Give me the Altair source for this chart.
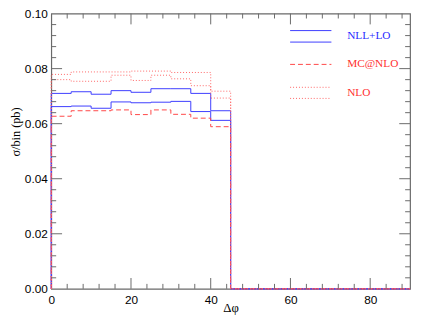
import altair as alt
import pandas as pd

# ---------------- data ----------------
bin_edges = [0, 5, 10, 15, 20, 25, 30, 35, 40]   # left edges of 5-degree bins
cut_off = 45
x_end = 90

nll_upper = [0.0710, 0.0716, 0.0707, 0.0720, 0.0714, 0.0727, 0.0727, 0.0710, 0.0647]
nll_lower = [0.0662, 0.0664, 0.0656, 0.0679, 0.0676, 0.0678, 0.0681, 0.0644, 0.0612]
mcnlo = [0.0627, 0.0647, 0.0647, 0.0650, 0.0633, 0.0650, 0.0634, 0.0620, 0.0589]
nlo_upper = [0.0779, 0.0788, 0.0788, 0.0788, 0.0791, 0.0791, 0.0786, 0.0786, 0.0718]
nlo_lower = [0.0760, 0.0754, 0.0754, 0.0776, 0.0757, 0.0776, 0.0763, 0.0738, 0.0693]

x_tick_labels = [0, 20, 40, 60, 80]
y_tick_labels = [0.0, 0.02, 0.04, 0.06, 0.08, 0.10]
legend_labels = ["NLL+LO", "MC@NLO", "NLO"]

# ---------------- layout / style ----------------
W, H = 365, 280
BLUE = "#3c3cff"
RED = "#ff4646"
PINK = "#ff6464"
FRAME = "#6a6a6a"


def step_rows(series, part, vals):
    xs = [0] + bin_edges + [cut_off, x_end]
    ys = [0] + list(vals) + [0, 0]
    return [dict(series=series, part=part, idx=i, x=x, y=y)
            for i, (x, y) in enumerate(zip(xs, ys))]


rows = (step_rows("NLL+LO", "a", nll_upper) + step_rows("NLL+LO", "b", nll_lower)
        + step_rows("MC@NLO", "a", mcnlo)
        + step_rows("NLO", "a", nlo_upper) + step_rows("NLO", "b", nlo_lower))
df = pd.DataFrame(rows)

xscale = alt.Scale(domain=[0, x_end], nice=False, zero=False)
yscale = alt.Scale(domain=[0, 0.1], nice=False)

X = alt.X("x:Q", scale=xscale,
          axis=alt.Axis(values=x_tick_labels, title="Δφ", labelFlush=False,
                        labelPadding=6, titleY=23, titleBaseline="alphabetic",
                        titleFont="Liberation Serif", titleFontSize=13))
Y = alt.Y("y:Q", scale=yscale,
          axis=alt.Axis(values=y_tick_labels, format=".2f", title="σ/bin (pb)",
                        labelFlush=False, labelPadding=4, titleX=-32, titleY=120,
                        titleAngle=270, titleBaseline="alphabetic", titleAlign="center",
                        titleFont="Liberation Serif", titleFontSize=12.5))


def hist(series, color, dash):
    kw = dict(interpolate="step-after", color=color, strokeWidth=1, clip=False)
    if dash:
        kw["strokeDash"] = dash
    return (alt.Chart(df).transform_filter(alt.datum.series == series)
            .mark_line(**kw)
            .encode(x=X, y=Y, detail="part:N", order="idx:Q"))


lines = [
    hist("NLL+LO", BLUE, None),
    hist("MC@NLO", RED, [5, 3]),
    hist("NLO", PINK, [1, 2]),
]

# ---------------- inward ticks on all four sides ----------------
x_major = [20, 40, 60, 80]
x_minor = [v for v in range(4, x_end, 4) if v % 20]
y_major = [0.02, 0.04, 0.06, 0.08]
y_minor = [round(v * 0.004, 3) for v in range(1, 25) if v % 5]

ticks = []
for vals, ln in ((x_major, 11), (x_minor, 5)):
    tdf = pd.DataFrame({"x": vals})
    for y0, y1 in ((H, H - ln), (0, ln)):
        ticks.append(alt.Chart(tdf).mark_rule(color=FRAME, strokeWidth=1).encode(
            x=X, y=alt.value(y0), y2=alt.value(y1)))
for vals, ln in ((y_major, 11), (y_minor, 5)):
    tdf = pd.DataFrame({"y": vals})
    for x0, x1 in ((0, ln), (W, W - ln)):
        ticks.append(alt.Chart(tdf).mark_rule(color=FRAME, strokeWidth=1).encode(
            y=Y, x=alt.value(x0), x2=alt.value(x1)))

# ---------------- custom legend ----------------
one = pd.DataFrame({"k": [0]})
leg = []
rule_specs = [(17.3, BLUE, None), (29.0, BLUE, None), (51.7, RED, [5, 3]),
              (75.0, PINK, [1, 2]), (86.3, PINK, [1, 2])]
for ypix, col, dash in rule_specs:
    kw = dict(color=col, strokeWidth=1)
    if dash:
        kw["strokeDash"] = dash
    leg.append(alt.Chart(one).mark_rule(**kw).encode(
        x=alt.value(243), x2=alt.value(285), y=alt.value(ypix)))
for label, ypix, col in zip(legend_labels, [23.3, 51.7, 80.7], ["#2a2aff", "#ff3030", "#ff3030"]):
    leg.append(alt.Chart(one).mark_text(
        align="left", baseline="middle", font="Liberation Serif", fontSize=11.5,
        color=col).encode(x=alt.value(301), y=alt.value(ypix), text=alt.value(label)))

chart = (alt.layer(*lines, *ticks, *leg)
         .properties(width=W, height=H,
                     padding={"left": 44, "top": 3, "right": 3, "bottom": 26},
                     autosize=alt.AutoSizeParams(type="none"))
         .configure_view(stroke=FRAME, strokeWidth=1.2)
         .configure_axis(grid=False, ticks=False, tickSize=0, domain=False,
                         labelFont="Liberation Sans", labelFontSize=12,
                         labelColor="#000", titleColor="#000", titleFontWeight="normal"))

chart.save("out.html", embed_options={"renderer": "svg", "actions": False})
